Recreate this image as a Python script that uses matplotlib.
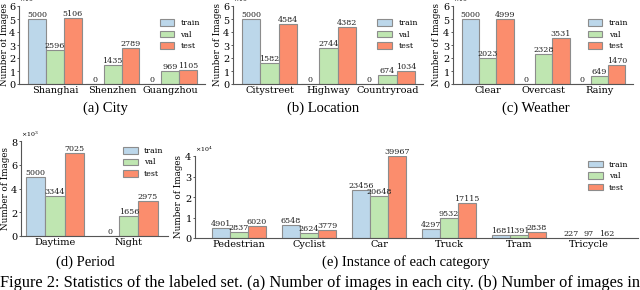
import matplotlib
matplotlib.use("Agg")
import matplotlib.pyplot as plt
import numpy as np
from matplotlib.ticker import ScalarFormatter

series = ["train", "val", "test"]
colors = ["#bcd7ea", "#bfe6b1", "#fb8d6d"]

city_cats = ["Shanghai", "Shenzhen", "Guangzhou"]
city_train = [5000, 0, 0]
city_val = [2596, 1435, 969]
city_test = [5106, 2789, 1105]

loc_cats = ["Citystreet", "Highway", "Countryroad"]
loc_train = [5000, 0, 0]
loc_val = [1582, 2744, 674]
loc_test = [4584, 4382, 1034]

weather_cats = ["Clear", "Overcast", "Rainy"]
weather_train = [5000, 0, 0]
weather_val = [2023, 2328, 649]
weather_test = [4999, 3531, 1470]

period_cats = ["Daytime", "Night"]
period_train = [5000, 0]
period_val = [3344, 1656]
period_test = [7025, 2975]

inst_cats = ["Pedestrian", "Cyclist", "Car", "Truck", "Tram", "Tricycle"]
inst_train = [4901, 6548, 23456, 4297, 1681, 227]
inst_val = [2837, 2624, 20648, 9532, 1391, 97]
inst_test = [6020, 3779, 39967, 17115, 2838, 162]

captions = ["(a) City", "(b) Location", "(c) Weather", "(d) Period",
            "(e) Instance of each category"]
fig_caption = ("Figure 2: Statistics of the labeled set. (a) Number of images in "
               "each city. (b) Number of images in")

W, H = 640, 290
fig = plt.figure(figsize=(6.4, 2.9), dpi=100)

SERIF = ["DejaVu Serif"]
TIMES = ["Liberation Serif"]


def px_axes(l, r, t, b):
    return fig.add_axes([l / W, 1 - b / H, (r - l) / W, (b - t) / H])


def panel(ax, cats, data, ymax, yticks, bw, xlim, caption, cx, cy,
          legend_anchor, label_x):
    x = np.arange(len(cats))
    for i, (vals, c, name) in enumerate(zip(data, colors, series)):
        bars = ax.bar(x + (i - 1) * bw, vals, bw, color=c, edgecolor="#8c8c8c",
                      linewidth=0.8, label=name)
        ax.bar_label(bars, labels=[str(v) for v in vals], padding=0,
                     fontsize=5.8, family=SERIF, color="#222222")
    ax.set_xlim(*xlim)
    ax.set_ylim(0, ymax)
    ax.set_yticks(yticks)
    fmt = ScalarFormatter(useMathText=True)
    fmt.set_powerlimits((0, 0))
    ax.yaxis.set_major_formatter(fmt)
    ax.yaxis.get_offset_text().set_fontsize(4.5)
    ax.yaxis.get_offset_text().set_family(SERIF)
    ax.set_xticks(x)
    ax.set_xticklabels(cats, fontsize=7, family=SERIF)
    for lab in ax.get_yticklabels():
        lab.set_fontsize(7)
        lab.set_family(SERIF)
    ax.tick_params(axis="x", length=0, pad=1.5)
    ax.tick_params(axis="y", length=1.5, width=0.6, pad=0.5, color="#444444")
    ax.set_ylabel("Number of Images", fontsize=6.3, family=SERIF)
    ax.yaxis.set_label_coords(label_x, 0.5)
    for s in ["top", "right"]:
        ax.spines[s].set_visible(False)
    for s in ["left", "bottom"]:
        ax.spines[s].set_color("#555555")
        ax.spines[s].set_linewidth(0.8)
    ax.legend(loc="upper right", bbox_to_anchor=legend_anchor, frameon=False,
              prop={"family": SERIF, "size": 5.6}, handlelength=1.9,
              handleheight=0.9, labelspacing=0.45, handletextpad=0.8,
              borderaxespad=0)
    fig.text(cx / W, 1 - cy / H, caption, ha="center", va="center",
             fontsize=10.5, family=TIMES)


axa = px_axes(19, 205, 6, 84)
panel(axa, city_cats, [city_train, city_val, city_test], 6000,
      np.arange(0, 7000, 1000), 0.31, (-0.62, 2.6), captions[0], 105, 108,
      (0.99, 0.87), (9 - 19) / 186)

axb = px_axes(233, 423, 6, 84)
panel(axb, loc_cats, [loc_train, loc_val, loc_test], 6000,
      np.arange(0, 7000, 1000), 0.31, (-0.62, 2.6), captions[1], 323, 108,
      (0.99, 0.87), (222 - 233) / 190)

axc = px_axes(453, 633, 6, 84)
panel(axc, weather_cats, [weather_train, weather_val, weather_test], 6000,
      np.arange(0, 7000, 1000), 0.31, (-0.62, 2.6), captions[2], 536, 108,
      (0.99, 0.87), (441 - 453) / 180)

axd = px_axes(21, 168, 141, 236)
panel(axd, period_cats, [period_train, period_val, period_test], 8000,
      np.arange(0, 9000, 2000), 0.26, (-0.46, 1.53), captions[3], 85, 262,
      (0.99, 0.97), (10 - 21) / 147)

axe = px_axes(195, 638, 156, 238)
panel(axe, inst_cats, [inst_train, inst_val, inst_test], 40000,
      np.arange(0, 50000, 10000), 0.257, (-0.63, 5.7), captions[4], 406, 262,
      (0.985, 0.98), (183 - 195) / 443)

fig.text(0.5 / W, 1 - 287 / H, fig_caption, ha="left", va="baseline",
         fontsize=11.8, family=TIMES)

fig.savefig("out.png", dpi=100)
